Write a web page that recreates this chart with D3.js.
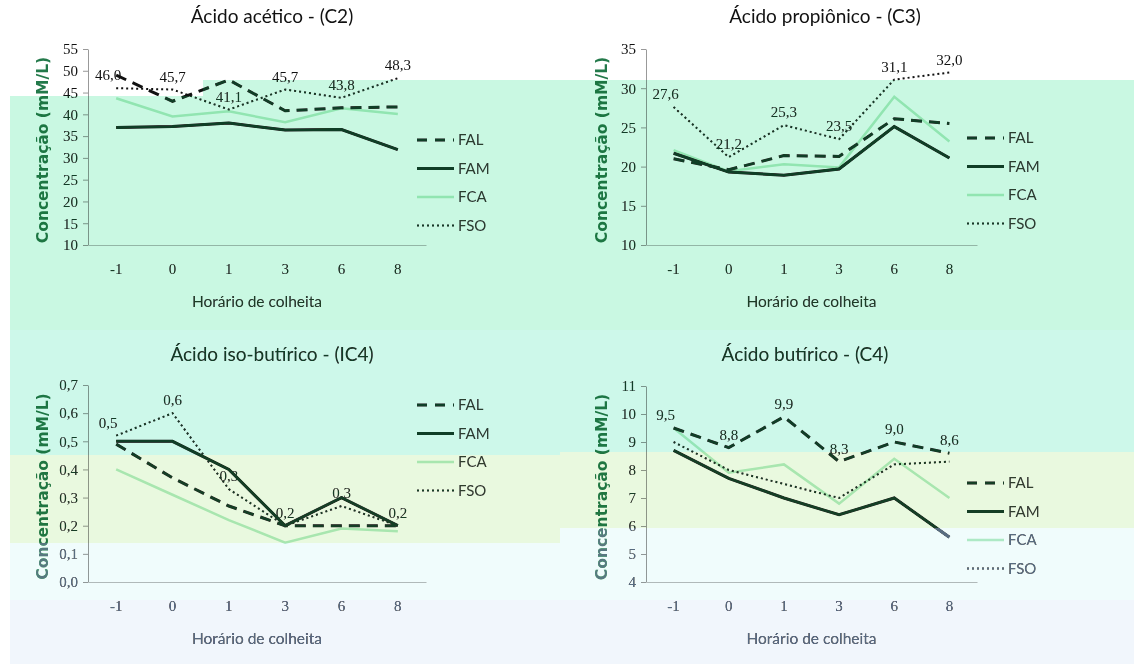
<!DOCTYPE html>
<html>
<head>
<meta charset="utf-8">
<script src="https://cdn.jsdelivr.net/npm/d3@7"></script>
<style>
  body { margin: 0; background: #fff; }
  svg { display: block; }
  .tint-l { mix-blend-mode: lighten; }
  .tint-m { mix-blend-mode: multiply; }
</style>
</head>
<body>
<div id="chart"></div>
<script>
// harvest times (x categories) and treatments
const categories = ["-1", "0", "1", "3", "6", "8"];
const seriesNames = ["FAL", "FAM", "FCA", "FSO"];

// Acido acetico (C2)
const c2FAL = [49.0, 43.0, 47.9, 40.8, 41.5, 41.7];
const c2FAM = [37.0, 37.2, 38.0, 36.4, 36.5, 31.9];
const c2FCA = [43.7, 39.5, 40.7, 38.2, 41.4, 40.1];
const c2FSO = [46.0, 45.7, 41.1, 45.7, 43.8, 48.3];
const c2Ticks = [10, 15, 20, 25, 30, 35, 40, 45, 50, 55];

// Acido propionico (C3)
const c3FAL = [21.0, 19.6, 21.4, 21.3, 26.1, 25.5];
const c3FAM = [21.7, 19.3, 18.9, 19.7, 25.1, 21.1];
const c3FCA = [22.1, 19.4, 20.3, 19.9, 28.9, 23.2];
const c3FSO = [27.6, 21.2, 25.3, 23.5, 31.1, 32.0];
const c3Ticks = [10, 15, 20, 25, 30, 35];

// Acido iso-butirico (IC4)
const ic4FAL = [0.49, 0.37, 0.27, 0.20, 0.20, 0.20];
const ic4FAM = [0.50, 0.50, 0.40, 0.20, 0.30, 0.20];
const ic4FCA = [0.40, 0.31, 0.22, 0.14, 0.19, 0.18];
const ic4FSO = [0.52, 0.60, 0.33, 0.20, 0.27, 0.20];
const ic4Ticks = [0, 0.1, 0.2, 0.3, 0.4, 0.5, 0.6, 0.7];

// Acido butirico (C4)
const c4FAL = [9.5, 8.8, 9.9, 8.3, 9.0, 8.6];
const c4FAM = [8.7, 7.7, 7.0, 6.4, 7.0, 5.6];
const c4FCA = [9.5, 7.9, 8.2, 6.8, 8.4, 7.0];
const c4FSO = [9.0, 8.0, 7.5, 7.0, 8.2, 8.3];
const c4Ticks = [4, 5, 6, 7, 8, 9, 10, 11];

var width = 1134, height = 664;
var svg = d3.select("#chart").append("svg")
    .attr("width", width)
    .attr("height", height);

svg.append("rect").attr("width", width).attr("height", height).attr("fill", "#fff");

// line styles per treatment
var styles = {
    FAL: { stroke: "#111", width: 3, dash: "11,7" },
    FAM: { stroke: "#000", width: 3, dash: null },
    FCA: { stroke: "#b8ecc8", width: 2.5, dash: null },
    FSO: { stroke: "#111", width: 2, dash: "2,3" }
};

const fmtInt = d3.format("d");
const fmtDec = function (d) { return d3.format(".1f")(d).replace(".", ","); };

function drawChart(cfg) {
    var g = svg.append("g");

    var xScale = d3.scaleBand().domain(categories).range([cfg.left, cfg.right]);
    var yScale = d3.scaleLinear().domain(cfg.domain).range([cfg.bottom, cfg.top]);
    var cx = function (i) { return xScale(categories[i]) + xScale.bandwidth() / 2; };

    // title
    g.append("text")
        .attr("x", cfg.tx).attr("y", cfg.ty)
        .attr("text-anchor", "middle")
        .style("font-family", "Lato, sans-serif")
        .style("font-size", "19px")
        .attr("fill", "#111")
        .text(cfg.title);

    // y axis
    var yAxis = g.append("g")
        .attr("transform", `translate(${cfg.left},0)`)
        .call(d3.axisLeft(yScale).tickValues(cfg.ticks).tickFormat(cfg.tickFmt).tickSize(5).tickSizeOuter(0).tickPadding(5));
    yAxis.select(".domain").attr("stroke", "#999");
    yAxis.selectAll(".tick line").attr("stroke", "#999");
    yAxis.selectAll("text")
        .style("font-family", "'Liberation Serif', serif")
        .style("font-size", "15px")
        .attr("fill", "#111");

    // x axis
    var xAxis = g.append("g")
        .attr("transform", `translate(0,${cfg.bottom})`)
        .call(d3.axisBottom(xScale).tickSize(0).tickSizeOuter(0).tickPadding(18));
    xAxis.select(".domain").attr("stroke", "#bbb");
    xAxis.selectAll("text")
        .style("font-family", "'Liberation Serif', serif")
        .style("font-size", "15px")
        .attr("fill", "#111");

    // axis titles
    g.append("text")
        .attr("x", (cfg.left + cfg.right) / 2).attr("y", cfg.bottom + 62)
        .attr("text-anchor", "middle")
        .style("font-family", "Lato, sans-serif")
        .style("font-size", "15.5px")
        .attr("fill", "#222")
        .text("Horário de colheita");

    g.append("text")
        .attr("transform", `translate(${cfg.ylabX},${(cfg.top + cfg.bottom) / 2 + 3}) rotate(-90)`)
        .attr("text-anchor", "middle")
        .style("font-family", "'DejaVu Sans', sans-serif")
        .style("font-weight", "bold")
        .style("font-size", "15.5px")
        .attr("fill", "#23794a")
        .text("Concentração (mM/L)");

    var line = d3.line()
        .x(function (d, i) { return cx(i); })
        .y(function (d) { return yScale(d); });

    // draw light series first so dark ones sit on top
    ["FCA", "FAM", "FAL", "FSO"].forEach(function (name) {
        var st = styles[name];
        g.append("path")
            .datum(cfg.data[name])
            .attr("d", line)
            .attr("fill", "none")
            .attr("stroke", st.stroke)
            .attr("stroke-width", st.width)
            .attr("stroke-dasharray", st.dash)
            .attr("stroke-linejoin", "miter");
    });

    // data labels on one series
    g.selectAll(".dlabel")
        .data(cfg.data[cfg.labelKey])
        .join("text")
        .attr("class", "dlabel")
        .attr("x", function (d, i) { return cx(i) + (i === 0 ? -8 : 0); })
        .attr("y", function (d) { return yScale(d) - 8; })
        .attr("text-anchor", "middle")
        .style("font-family", "'Liberation Serif', serif")
        .style("font-size", "15px")
        .attr("fill", "#111")
        .text(fmtDec);

    // legend
    var leg = g.selectAll(".leg")
        .data(seriesNames)
        .join("g")
        .attr("class", "leg")
        .attr("transform", function (d, i) { return `translate(${cfg.legX},${cfg.legY + i * 28.5})`; });
    leg.append("line")
        .attr("x1", 0).attr("x2", 37).attr("y1", 0).attr("y2", 0)
        .attr("stroke", function (d) { return styles[d].stroke; })
        .attr("stroke-width", function (d) { return styles[d].width; })
        .attr("stroke-dasharray", function (d) { return d === "FAL" ? "10,8" : styles[d].dash; });
    leg.append("text")
        .attr("x", 41).attr("y", 5)
        .style("font-family", "Lato, sans-serif")
        .style("font-size", "15px")
        .attr("fill", "#333")
        .text(function (d) { return d; });
}

drawChart({
    title: "Ácido acético - (C2)", tx: 272, ty: 23,
    left: 88, right: 426, top: 49, bottom: 245,
    domain: [10, 55], ticks: c2Ticks, tickFmt: fmtInt,
    data: { FAL: c2FAL, FAM: c2FAM, FCA: c2FCA, FSO: c2FSO }, labelKey: "FSO",
    legX: 417, legY: 140, ylabX: 48
});

drawChart({
    title: "Ácido propiônico  - (C3)", tx: 825, ty: 23,
    left: 646, right: 977, top: 49, bottom: 245,
    domain: [10, 35], ticks: c3Ticks, tickFmt: fmtInt,
    data: { FAL: c3FAL, FAM: c3FAM, FCA: c3FCA, FSO: c3FSO }, labelKey: "FSO",
    legX: 967, legY: 138, ylabX: 607
});

drawChart({
    title: "Ácido iso-butírico - (IC4)", tx: 272, ty: 361,
    left: 88, right: 426, top: 385, bottom: 582,
    domain: [0, 0.7], ticks: ic4Ticks, tickFmt: fmtDec,
    data: { FAL: ic4FAL, FAM: ic4FAM, FCA: ic4FCA, FSO: ic4FSO }, labelKey: "FSO",
    legX: 417, legY: 405, ylabX: 48
});

drawChart({
    title: "Ácido butírico - (C4)", tx: 805, ty: 361,
    left: 646, right: 977, top: 386, bottom: 582,
    domain: [4, 11], ticks: c4Ticks, tickFmt: fmtInt,
    data: { FAL: c4FAL, FAM: c4FAM, FCA: c4FCA, FSO: c4FSO }, labelKey: "FAL",
    legX: 967, legY: 483, ylabX: 607
});

// colour cast of the scanned figure: lift darks, then tint
var tints = [
    { x: 10, y: 96, w: 193, h: 234, dark: "#12402a", tint: "#c9f8e2" },
    { x: 203, y: 80, w: 931, h: 250, dark: "#12402a", tint: "#c9f8e2" },
    { x: 10, y: 330, w: 550, h: 125, dark: "#12402a", tint: "#cdf8ea" },
    { x: 560, y: 330, w: 574, h: 122, dark: "#12402a", tint: "#cdf8ea" },
    { x: 10, y: 455, w: 550, h: 88, dark: "#163f2a", tint: "#e9f9df" },
    { x: 560, y: 452, w: 574, h: 76, dark: "#163f2a", tint: "#e9f9df" },
    { x: 10, y: 543, w: 550, h: 57, dark: "#5d6d82", tint: "#f0fcfc" },
    { x: 560, y: 528, w: 574, h: 72, dark: "#5d6d82", tint: "#f0fcfc" },
    { x: 10, y: 600, w: 1124, h: 64, dark: "#5d6d82", tint: "#f1f6fc" }
];

svg.selectAll(".tint-l")
    .data(tints)
    .join("rect")
    .attr("class", "tint-l")
    .attr("x", function (d) { return d.x; })
    .attr("y", function (d) { return d.y; })
    .attr("width", function (d) { return d.w; })
    .attr("height", function (d) { return d.h; })
    .attr("fill", function (d) { return d.dark; });

svg.selectAll(".tint-m")
    .data(tints)
    .join("rect")
    .attr("class", "tint-m")
    .attr("x", function (d) { return d.x; })
    .attr("y", function (d) { return d.y; })
    .attr("width", function (d) { return d.w; })
    .attr("height", function (d) { return d.h; })
    .attr("fill", function (d) { return d.tint; });
</script>
</body>
</html>
